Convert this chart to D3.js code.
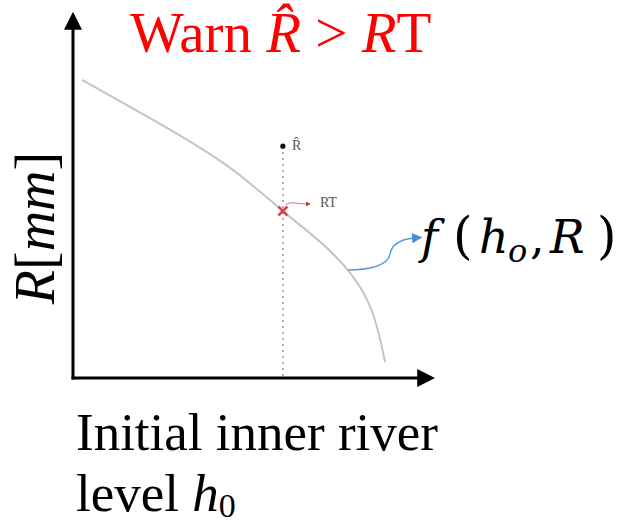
<!DOCTYPE html>
<html>
<head>
<meta charset="utf-8">
<script src="https://cdn.jsdelivr.net/npm/d3@7"></script>
<style>
  html, body { margin: 0; padding: 0; background: #fff; }
  svg { display: block; }
  text { font-family: "Liberation Serif", "DejaVu Serif", "Times New Roman", Times, serif; }
  text.math { font-family: "DejaVu Serif", "Liberation Serif", serif; }
</style>
</head>
<body>
<svg id="chart" width="617" height="523"></svg>
<script>
// Response curve f(h0, R): initial inner river level vs. rainfall threshold
const curveH = [2.5, 21.4, 42.2, 58.3, 71.4, 81.7, 86.7];
const curveR = [82.8, 72.2, 59.4, 46.4, 35.3, 21.7, 4.4];

// Current state: observed level, threshold RT on the curve and forecast R-hat
const currentH = [58.3];
const thresholdRT = [46.4];
const forecastR = [64.4];

// Point on the curve where the f(h_o, R) callout starts
const calloutH = [76.4];
const calloutR = [30.0];

const svg = d3.select("#chart");

const x = d3.scaleLinear().domain([0, 100]).range([73, 433]);
const y = d3.scaleLinear().domain([0, 100]).range([378, 18]);

// Arrowhead markers
const defs = svg.append("defs");
defs.append("marker")
  .attr("id", "axisHead").attr("viewBox", "0 0 10 10")
  .attr("refX", 1).attr("refY", 5)
  .attr("markerWidth", 6).attr("markerHeight", 6)
  .attr("markerUnits", "strokeWidth").attr("orient", "auto")
  .append("path").attr("d", "M0,0 L10,5 L0,10 Z").attr("fill", "#000");
defs.append("marker")
  .attr("id", "blueHead").attr("viewBox", "0 0 10 10")
  .attr("refX", 2).attr("refY", 5)
  .attr("markerWidth", 7).attr("markerHeight", 7)
  .attr("markerUnits", "strokeWidth").attr("orient", "auto")
  .append("path").attr("d", "M0,0 L10,5 L0,10 Z").attr("fill", "#4a8fd6");
defs.append("marker")
  .attr("id", "redHead").attr("viewBox", "0 0 10 10")
  .attr("refX", 2).attr("refY", 5)
  .attr("markerWidth", 5).attr("markerHeight", 5)
  .attr("markerUnits", "strokeWidth").attr("orient", "auto")
  .append("path").attr("d", "M0,0 L10,5 L0,10 Z").attr("fill", "#c83838");

// Axes: plain lines without ticks, with arrowheads
const xAxis = svg.append("g").attr("transform", `translate(0,${y(0)})`)
  .call(d3.axisBottom(x).tickValues([]).tickSizeOuter(0));
const yAxis = svg.append("g").attr("transform", `translate(${x(0)},0)`)
  .call(d3.axisLeft(y).tickValues([]).tickSizeOuter(0));
[xAxis, yAxis].forEach(g => g.select(".domain").remove());

svg.append("line")
  .attr("x1", x(0) - 1.5).attr("y1", y(0))
  .attr("x2", x(100) - 14).attr("y2", y(0))
  .attr("stroke", "#000").attr("stroke-width", 3)
  .attr("marker-end", "url(#axisHead)");
svg.append("line")
  .attr("x1", x(0)).attr("y1", y(0) + 1.5)
  .attr("x2", x(0)).attr("y2", y(100) + 10)
  .attr("stroke", "#000").attr("stroke-width", 3)
  .attr("marker-end", "url(#axisHead)");

// Dotted vertical at the current level, from axis to forecast point
svg.append("line")
  .attr("x1", x(currentH[0])).attr("y1", y(0) - 2)
  .attr("x2", x(currentH[0])).attr("y2", y(forecastR[0]) + 5)
  .attr("stroke", "#9a9a9a").attr("stroke-width", 1.6)
  .attr("stroke-dasharray", "2,4");

// Threshold curve
const line = d3.line()
  .x((d, i) => x(curveH[i]))
  .y((d, i) => y(curveR[i]))
  .curve(d3.curveNatural);
svg.append("path")
  .datum(curveH)
  .attr("d", line)
  .attr("fill", "none")
  .attr("stroke", "#c4c4c4")
  .attr("stroke-width", 2);

// Forecast point R-hat
svg.append("circle")
  .attr("cx", x(currentH[0])).attr("cy", y(forecastR[0]))
  .attr("r", 2.6).attr("fill", "#111");
svg.append("text")
  .attr("x", x(currentH[0]) + 9).attr("y", y(forecastR[0]) + 4)
  .attr("font-size", 14).attr("fill", "#555")
  .text("R\u0302");

// Threshold marker on the curve
const mx = x(currentH[0]), my = y(thresholdRT[0]);
svg.append("path")
  .attr("d", `M${mx - 4.5},${my - 4.5}L${mx + 4.5},${my + 4.5}M${mx - 4.5},${my + 4.5}L${mx + 4.5},${my - 4.5}`)
  .attr("stroke", "#d44a4a").attr("stroke-width", 2.6).attr("fill", "none");
svg.append("path")
  .attr("d", `M${mx + 3},${my - 6} C${mx + 7},${my - 10} ${mx + 14},${my - 7} ${mx + 24},${my - 7}`)
  .attr("stroke", "#e07070").attr("stroke-width", 1).attr("fill", "none")
  .attr("marker-end", "url(#redHead)");
svg.append("text")
  .attr("x", mx + 37).attr("y", my - 4)
  .attr("font-size", 14).attr("fill", "#555")
  .text("RT");

// Callout arrow to the curve label
const cx0 = x(calloutH[0]), cy0 = y(calloutR[0]);
svg.append("path")
  .attr("d", `M${cx0},${cy0} C${cx0 + 20},${cy0} ${cx0 + 40},${cy0 - 4} ${cx0 + 42},${cy0 - 16} C${cx0 + 44},${cy0 - 28} ${cx0 + 56},${cy0 - 31} ${cx0 + 66},${cy0 - 32}`)
  .attr("stroke", "#5b9bd5").attr("stroke-width", 1.5).attr("fill", "none")
  .attr("marker-end", "url(#blueHead)");

// Curve label f(h_o, R)
const fl = svg.append("text")
  .attr("class", "math")
  .attr("y", 253)
  .attr("font-size", 46).attr("fill", "#000");
fl.append("tspan").attr("x", 421).attr("font-style", "italic").text("f");
fl.append("tspan").attr("x", 453).attr("font-size", 50).text("(");
fl.append("tspan").attr("x", 479).attr("font-style", "italic").text("h");
fl.append("tspan").attr("x", 508).attr("font-style", "italic").attr("font-size", 32).attr("dy", 9).text("o");
fl.append("tspan").attr("x", 530).attr("dy", -9).text(",");
fl.append("tspan").attr("x", 550).attr("font-style", "italic").text("R");
fl.append("tspan").attr("x", 597).attr("font-size", 50).text(")");

// Warning title
const t = svg.append("text")
  .attr("x", 130).attr("y", 52)
  .attr("font-size", 57).attr("fill", "#ff0000");
t.append("tspan").text("Warn ");
t.append("tspan").attr("font-style", "italic").text("R\u0302");
t.append("tspan").text(" > ");
t.append("tspan").attr("font-style", "italic").text("R");
t.append("tspan").text("T");

// Y axis label
const yl = svg.append("text")
  .attr("transform", `translate(54,228) rotate(-90)`)
  .attr("text-anchor", "middle")
  .attr("font-size", 56).attr("fill", "#000");
yl.append("tspan").attr("font-style", "italic").text("R");
yl.append("tspan").text("[");
yl.append("tspan").attr("font-style", "italic").text("mm");
yl.append("tspan").text("]");

// X axis label (two lines)
svg.append("text")
  .attr("x", 76).attr("y", 450)
  .attr("font-size", 53).attr("fill", "#000")
  .text("Initial inner river");
const xl2 = svg.append("text")
  .attr("x", 76).attr("y", 511)
  .attr("font-size", 53).attr("fill", "#000");
xl2.append("tspan").text("level ");
xl2.append("tspan").attr("font-style", "italic").text("h");
xl2.append("tspan").attr("font-size", 34).attr("dy", 6).text("0");
</script>
</body>
</html>
